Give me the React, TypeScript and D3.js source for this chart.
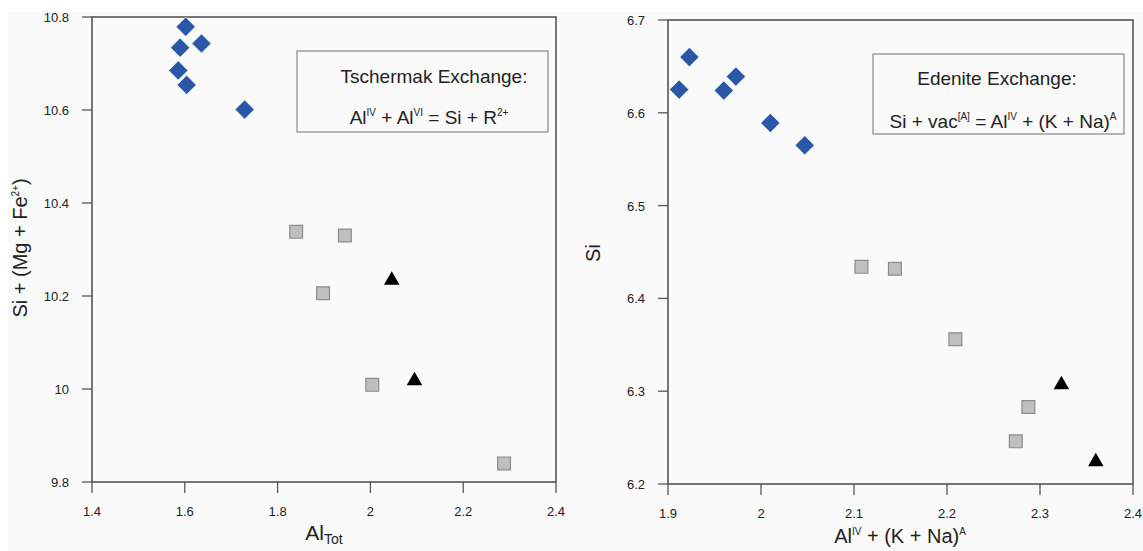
import React from 'react';
import * as d3 from 'd3';

// Tschermak panel
const tsDiamondX = [1.602, 1.590, 1.636, 1.586, 1.604, 1.729];
const tsDiamondY = [10.779, 10.734, 10.743, 10.685, 10.654, 10.601];
const tsSquareX = [1.840, 1.945, 1.898, 2.004, 2.288];
const tsSquareY = [10.338, 10.330, 10.206, 10.009, 9.840];
const tsTriangleX = [2.046, 2.095];
const tsTriangleY = [10.234, 10.018];
const tsXTicks = [1.4, 1.6, 1.8, 2.0, 2.2, 2.4];
const tsYTicks = [9.8, 10.0, 10.2, 10.4, 10.6, 10.8];

// Edenite panel
const edDiamondX = [1.912, 1.923, 1.960, 1.973, 2.010, 2.047];
const edDiamondY = [6.625, 6.660, 6.624, 6.639, 6.589, 6.565];
const edSquareX = [2.108, 2.144, 2.209, 2.2875, 2.274];
const edSquareY = [6.434, 6.432, 6.356, 6.283, 6.246];
const edTriangleX = [2.323, 2.360];
const edTriangleY = [6.307, 6.224];
const edXTicks = [1.9, 2.0, 2.1, 2.2, 2.3, 2.4];
const edYTicks = [6.2, 6.3, 6.4, 6.5, 6.6, 6.7];

const FONT = 'Liberation Sans, Arial, sans-serif';
const fmt = d3.format('.1~f');

const diamondPath = d3.symbol(d3.symbolSquare, 185)()!;
const squarePath = d3.symbol(d3.symbolSquare, 165)()!;
const trianglePath = d3.symbol(d3.symbolTriangle, 105)()!;

type PanelProps = {
  x: d3.ScaleLinear<number, number>;
  y: d3.ScaleLinear<number, number>;
  xTicks: number[];
  yTicks: number[];
  diamonds: [number[], number[]];
  squares: [number[], number[]];
  triangles: [number[], number[]];
};

function Panel ({ x, y, xTicks, yTicks, diamonds, squares, triangles }: PanelProps) {
  const [x0, x1] = x.range();
  const [y0, y1] = y.range();
  return (
    <g>
      <rect x={x0} y={y1} width={x1 - x0} height={y0 - y1}
        fill="#fafafa" stroke="#555" strokeWidth={1.6} />
      {xTicks.map(t => (
        <g key={'x' + t}>
          <line x1={x(t)} x2={x(t)} y1={y0} y2={y0 + 11} stroke="#555" strokeWidth={1.3} />
          <text x={x(t)} y={y0 + 34} textAnchor="middle" fontSize={13} fill="#222">{fmt(t)}</text>
        </g>
      ))}
      {yTicks.map(t => (
        <g key={'y' + t}>
          <line x1={x0 - 10} x2={x0} y1={y(t)} y2={y(t)} stroke="#555" strokeWidth={1.3} />
          <text x={x0 - 23} y={y(t) + 5} textAnchor="end" fontSize={13} fill="#222">{fmt(t)}</text>
        </g>
      ))}
      {diamonds[0].map((v, i) => (
        <path key={'d' + i} d={diamondPath}
          transform={`translate(${x(v)},${y(diamonds[1][i])}) rotate(45)`}
          fill="#2b57a7" stroke="#fafafa" strokeWidth={0.6} />
      ))}
      {squares[0].map((v, i) => (
        <path key={'s' + i} d={squarePath}
          transform={`translate(${x(v)},${y(squares[1][i])})`}
          fill="#bfbfbf" stroke="#8c8c8c" strokeWidth={1.2} />
      ))}
      {triangles[0].map((v, i) => (
        <path key={'t' + i} d={trianglePath}
          transform={`translate(${x(v)},${y(triangles[1][i])})`}
          fill="#000" />
      ))}
    </g>
  );
}

export default function App () {
  const tsX = d3.scaleLinear().domain([1.4, 2.4]).range([92, 556]);
  const tsY = d3.scaleLinear().domain([9.8, 10.8]).range([482, 17]);
  const edX = d3.scaleLinear().domain([1.9, 2.4]).range([668, 1133]);
  const edY = d3.scaleLinear().domain([6.2, 6.7]).range([484, 20]);

  return (
    <svg width={1143} height={551} style={{ position: 'absolute', left: 0, top: 0 }}
      fontFamily={FONT}>
      <rect x={0} y={0} width={1143} height={551} fill="#fff" />
      <rect x={8} y={12} width={1135} height={539} fill="#fafafa" />

      <Panel x={tsX} y={tsY} xTicks={tsXTicks} yTicks={tsYTicks}
        diamonds={[tsDiamondX, tsDiamondY]} squares={[tsSquareX, tsSquareY]}
        triangles={[tsTriangleX, tsTriangleY]} />
      <Panel x={edX} y={edY} xTicks={edXTicks} yTicks={edYTicks}
        diamonds={[edDiamondX, edDiamondY]} squares={[edSquareX, edSquareY]}
        triangles={[edTriangleX, edTriangleY]} />

      {/* legend boxes */}
      <rect x={297} y={51} width={251} height={81} fill="#fafafa" stroke="#888" strokeWidth={1.2} />
      <text x={434} y={83} textAnchor="middle" fontSize={19} fill="#222">Tschermak Exchange:</text>
      <text x={429} y={124} textAnchor="middle" fontSize={19} fill="#222">
        Al<tspan fontSize={10} dy={-8}>IV</tspan>
        <tspan dy={8}> + Al</tspan><tspan fontSize={10} dy={-8}>VI</tspan>
        <tspan dy={8}> = Si + R</tspan><tspan fontSize={10} dy={-8}>2+</tspan>
      </text>

      <rect x={873} y={54} width={251} height={80} fill="#fafafa" stroke="#888" strokeWidth={1.2} />
      <text x={997} y={85} textAnchor="middle" fontSize={19} fill="#222">Edenite Exchange:</text>
      <text x={1003} y={128} textAnchor="middle" fontSize={19} fill="#222">
        Si + vac<tspan fontSize={10} dy={-8}>[A]</tspan>
        <tspan dy={8}> = Al</tspan><tspan fontSize={10} dy={-8}>IV</tspan>
        <tspan dy={8}> + (K + Na)</tspan><tspan fontSize={10} dy={-8}>A</tspan>
      </text>

      {/* axis titles */}
      <text x={324} y={540} textAnchor="middle" fontSize={21} fill="#222">
        Al<tspan fontSize={14} dy={4}>Tot</tspan>
      </text>
      <text x={900} y={543} textAnchor="middle" fontSize={20} fill="#222">
        Al<tspan fontSize={10} dy={-8}>IV</tspan>
        <tspan dy={8}> + (K + Na)</tspan><tspan fontSize={10} dy={-8}>A</tspan>
      </text>
      <text transform="translate(27,248) rotate(-90)" textAnchor="middle" fontSize={20} fill="#222">
        Si + (Mg + Fe<tspan fontSize={10} dy={-8}>2+</tspan><tspan dy={8}>)</tspan>
      </text>
      <text transform="translate(600,253) rotate(-90)" textAnchor="middle" fontSize={20} fill="#222">Si</text>
    </svg>
  );
}
